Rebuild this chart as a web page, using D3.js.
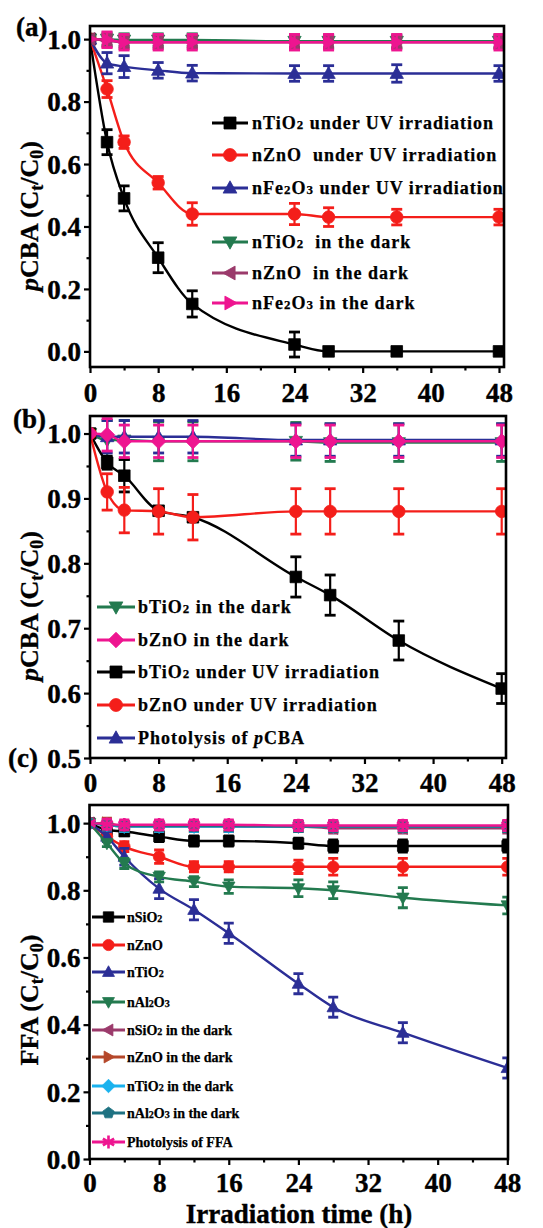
<!DOCTYPE html>
<html>
<head>
<meta charset="utf-8">
<script src="https://cdn.jsdelivr.net/npm/d3@7"></script>
<style>
  html, body { margin: 0; padding: 0; background: #fff; }
  svg { display: block; }
  text { font-family: "Liberation Serif", "Times New Roman", serif; font-weight: bold; white-space: pre; }
</style>
</head>
<body>
<svg id="chart" width="543" height="1228"></svg>
<script>
// ---------------- DATA ----------------
const xTicks = [0, 8, 16, 24, 32, 40, 48];
const xMinorTicks = [4, 12, 20, 28, 36, 44];

// Panel (a)
const timesA = [0, 2, 4, 8, 12, 24, 28, 36, 48];
const aNamesList = ["nTiO2 under UV irradiation", "nZnO  under UV irradiation", "nFe2O3 under UV irradiation",
                    "nTiO2  in the dark", "nZnO  in the dark", "nFe2O3 in the dark"];
const aTiO2UV     = [1.0, 0.67, 0.49, 0.30, 0.152, 0.022, 0.0, 0.0, 0.0];
const aTiO2UVErr  = [0, 0.04, 0.04, 0.048, 0.042, 0.04, 0.005, 0.005, 0.005];
const aZnOUV      = [1.0, 0.84, 0.67, 0.54, 0.44, 0.44, 0.43, 0.43, 0.43];
const aZnOUVErr   = [0, 0.027, 0.02, 0.02, 0.036, 0.034, 0.03, 0.025, 0.025];
const aFe2O3UV    = [1.0, 0.923, 0.912, 0.90, 0.891, 0.89, 0.89, 0.89, 0.89];
const aFe2O3UVErr = [0, 0.034, 0.035, 0.025, 0.025, 0.025, 0.025, 0.028, 0.025];
const aTiO2Dark   = [1.0, 1.0, 0.997, 0.997, 0.997, 0.993, 0.993, 0.993, 0.993];
const aTiO2DarkErr= [0, 0.02, 0.02, 0.02, 0.02, 0.02, 0.02, 0.02, 0.02];
const aZnODark    = [1.0, 0.995, 0.99, 0.99, 0.99, 0.99, 0.99, 0.99, 0.99];
const aZnODarkErr = [0, 0.02, 0.02, 0.02, 0.02, 0.02, 0.02, 0.02, 0.02];
const aFe2O3Dark  = [1.0, 0.998, 0.99, 0.99, 0.99, 0.99, 0.99, 0.99, 0.99];
const aFe2O3DarkErr=[0, 0.025, 0.025, 0.025, 0.025, 0.025, 0.025, 0.025, 0.025];
const aYTicks = [0.0, 0.2, 0.4, 0.6, 0.8, 1.0];
const aYMinor = [0.1, 0.3, 0.5, 0.7, 0.9];

// Panel (b)
const timesB = [0, 2, 4, 8, 12, 24, 28, 36, 48];
const bNamesList = ["bTiO2 in the dark", "bZnO in the dark", "bTiO2 under UV irradiation",
                    "bZnO under UV irradiation", "Photolysis of pCBA"];
const bTiO2Dark   = [1.0, 0.99, 0.99, 0.988, 0.988, 0.988, 0.986, 0.986, 0.986];
const bTiO2DarkErr= [0, 0.03, 0.03, 0.03, 0.03, 0.029, 0.029, 0.029, 0.029];
const bZnODark    = [1.0, 0.998, 0.988, 0.988, 0.988, 0.988, 0.988, 0.988, 0.988];
const bZnODarkErr = [0, 0.025, 0.025, 0.025, 0.025, 0.025, 0.025, 0.025, 0.025];
const bTiO2UV     = [1.0, 0.955, 0.935, 0.881, 0.871, 0.779, 0.751, 0.681, 0.607];
const bTiO2UVErr  = [0, 0.01, 0.025, 0.006, 0.006, 0.031, 0.031, 0.03, 0.023];
const bZnOUV      = [1.0, 0.91, 0.882, 0.88, 0.871, 0.88, 0.88, 0.88, 0.88];
const bZnOUVErr   = [0, 0.028, 0.035, 0.035, 0.035, 0.035, 0.035, 0.035, 0.035];
const bPhotolysis = [1.0, 0.995, 0.995, 0.995, 0.995, 0.99, 0.99, 0.99, 0.99];
const bPhotolysisErr = [0, 0.025, 0.025, 0.025, 0.025, 0.025, 0.025, 0.025, 0.025];
const bYTicks = [0.5, 0.6, 0.7, 0.8, 0.9, 1.0];
const bYMinor = [0.55, 0.65, 0.75, 0.85, 0.95];

// Panel (c)
const timesC = [0, 2, 4, 8, 12, 16, 24, 28, 36, 48];
const cNamesList = ["nSiO2", "nZnO", "nTiO2", "nAl2O3", "nSiO2 in the dark", "nZnO in the dark",
                    "nTiO2 in the dark", "nAl2O3 in the dark", "Photolysis of FFA"];
const cSiO2       = [1.0, 0.98, 0.975, 0.96, 0.947, 0.947, 0.94, 0.932, 0.932, 0.932];
const cSiO2Err    = [0, 0.012, 0.012, 0.015, 0.015, 0.015, 0.015, 0.018, 0.018, 0.018];
const cZnO        = [1.0, 0.96, 0.93, 0.90, 0.87, 0.87, 0.87, 0.87, 0.87, 0.87];
const cZnOErr     = [0, 0.01, 0.015, 0.02, 0.015, 0.015, 0.02, 0.025, 0.025, 0.025];
const cTiO2       = [1.0, 0.96, 0.90, 0.805, 0.742, 0.672, 0.522, 0.452, 0.376, 0.271];
const cTiO2Err    = [0, 0.015, 0.025, 0.03, 0.03, 0.03, 0.03, 0.03, 0.03, 0.03];
const cAl2O3      = [1.0, 0.94, 0.88, 0.84, 0.826, 0.811, 0.806, 0.80, 0.778, 0.755];
const cAl2O3Err   = [0, 0.01, 0.015, 0.015, 0.015, 0.02, 0.025, 0.025, 0.03, 0.025];
const cSiO2Dark   = [1.0, 0.995, 0.99, 0.99, 0.99, 0.99, 0.99, 0.985, 0.985, 0.985];
const cZnODark    = [1.0, 1.0, 0.99, 0.99, 0.99, 0.99, 0.99, 0.99, 0.99, 0.99];
const cTiO2Dark   = [1.0, 0.995, 0.99, 0.99, 0.99, 0.99, 0.99, 0.99, 0.99, 0.99];
const cAl2O3Dark  = [1.0, 0.995, 0.992, 0.992, 0.992, 0.992, 0.99, 0.99, 0.99, 0.99];
const cPhotolysis = [1.0, 0.997, 0.995, 0.995, 0.995, 0.995, 0.993, 0.993, 0.993, 0.993];
const cDarkErr    = [0, 0.015, 0.015, 0.015, 0.015, 0.015, 0.015, 0.015, 0.015, 0.015];
const cYTicks = [0.0, 0.2, 0.4, 0.6, 0.8, 1.0];
const cYMinor = [0.1, 0.3, 0.5, 0.7, 0.9];

// ---------------- STYLE ----------------
const C = {
  black: "#000000", red: "#f41e1a", blue: "#2b2e96", green: "#237a4f",
  purple: "#9b3a6b", magenta: "#ee1590", brown: "#b5472a", cyan: "#1ab2ee", teal: "#1e7282"
};

const svg = d3.select("#chart");

function markerPath(shape, r) {
  const p = d3.path();
  const poly = pts => { pts.forEach((q, i) => i ? p.lineTo(q[0], q[1]) : p.moveTo(q[0], q[1])); p.closePath(); };
  const h = r;
  switch (shape) {
    case "square": poly([[-r, -r], [r, -r], [r, r], [-r, r]]); break;
    case "circle": p.arc(0, 0, r * 1.08, 0, 2 * Math.PI); break;
    case "up": poly([[0, -h * 1.2], [h * 1.15, h * 0.85], [-h * 1.15, h * 0.85]]); break;
    case "down": poly([[0, h * 1.2], [h * 1.15, -h * 0.85], [-h * 1.15, -h * 0.85]]); break;
    case "left": poly([[-h * 1.2, 0], [h * 0.85, -h * 1.15], [h * 0.85, h * 1.15]]); break;
    case "right": poly([[h * 1.2, 0], [-h * 0.85, -h * 1.15], [-h * 0.85, h * 1.15]]); break;
    case "diamond": poly([[0, -r * 1.3], [r * 1.3, 0], [0, r * 1.3], [-r * 1.3, 0]]); break;
    case "pentagon": {
      const pts = d3.range(5).map(i => { const a = -Math.PI / 2 + i * 2 * Math.PI / 5; return [Math.cos(a) * r * 1.15, Math.sin(a) * r * 1.15]; });
      poly(pts); break;
    }
    case "asterisk": {
      for (let i = 0; i < 3; i++) {
        const a = Math.PI / 2 + i * Math.PI / 3;
        p.moveTo(Math.cos(a) * r * 1.25, Math.sin(a) * r * 1.25);
        p.lineTo(-Math.cos(a) * r * 1.25, -Math.sin(a) * r * 1.25);
      }
      break;
    }
  }
  return p.toString();
}

function drawMarker(g, shape, color, cx, cy, r) {
  const el = g.append("path").attr("d", markerPath(shape, r))
    .attr("transform", `translate(${cx},${cy})`);
  if (shape === "asterisk") el.attr("fill", "none").attr("stroke", color).attr("stroke-width", 2.6);
  else el.attr("fill", color).attr("stroke", color).attr("stroke-width", 0.8);
}

function labelTspans(textSel, label, fs) {
  let buf = "";
  const flush = () => { if (buf) { textSel.append("tspan").text(buf); buf = ""; } };
  for (let i = 0; i < label.length; i++) {
    const ch = label[i];
    if (/\d/.test(ch) && i > 0 && /[A-Za-z]/.test(label[i - 1])) {
      flush();
      textSel.append("tspan").attr("font-size", fs * 0.72).text(ch);
    } else if (label.substr(i, 4) === "pCBA") {
      flush();
      textSel.append("tspan").attr("font-style", "italic").text("p");
    } else buf += ch;
  }
  flush();
}

function drawPanel(cfg) {
  const g = svg.append("g");
  const x = d3.scaleLinear().domain([0, 48]).range([cfg.left, cfg.x48]);
  const y = d3.scaleLinear().domain(cfg.yDomain).range([cfg.bottom, cfg.top]);
  const clipId = "clip" + cfg.id;
  svg.append("clipPath").attr("id", clipId).append("rect")
    .attr("x", cfg.left).attr("y", cfg.top).attr("width", cfg.right - cfg.left).attr("height", cfg.bottom - cfg.top);
  const plot = g.append("g").attr("clip-path", `url(#${clipId})`);

  const line = d3.line().x(d => x(d.t)).y(d => y(d.v)).curve(d3.curveMonotoneX);

  cfg.series.forEach(s => {
    const pts = cfg.times.map((t, i) => ({ t, v: s.values[i], e: s.err[i] }));
    const sg = plot.append("g");
    sg.append("path").datum(pts).attr("d", line).attr("fill", "none")
      .attr("stroke", s.color).attr("stroke-width", 2.4);
    pts.forEach(d => {
      if (d.e > 0) {
        const y1 = y(d.v - d.e), y2 = y(d.v + d.e), cx = x(d.t), cw = cfg.cap;
        sg.append("line").attr("x1", cx).attr("x2", cx).attr("y1", y1).attr("y2", y2).attr("stroke", s.color).attr("stroke-width", 2.2);
        sg.append("line").attr("x1", cx - cw).attr("x2", cx + cw).attr("y1", y1).attr("y2", y1).attr("stroke", s.color).attr("stroke-width", 2.8);
        sg.append("line").attr("x1", cx - cw).attr("x2", cx + cw).attr("y1", y2).attr("y2", y2).attr("stroke", s.color).attr("stroke-width", 2.8);
      }
      drawMarker(sg, s.shape, s.color, x(d.t), y(d.v), cfg.mr);
    });
  });

  g.append("rect").attr("x", cfg.left).attr("y", cfg.top)
    .attr("width", cfg.right - cfg.left).attr("height", cfg.bottom - cfg.top)
    .attr("fill", "none").attr("stroke", "#000").attr("stroke-width", 2.6);

  const xa = g.append("g").attr("transform", `translate(0,${cfg.bottom})`)
    .call(d3.axisBottom(x).tickValues(xTicks).tickSize(6).tickPadding(8).tickFormat(d3.format("d")));
  const xm = g.append("g").attr("transform", `translate(0,${cfg.bottom})`)
    .call(d3.axisBottom(x).tickValues(xMinorTicks).tickSize(3.5).tickFormat(""));
  const ya = g.append("g").attr("transform", `translate(${cfg.left},0)`)
    .call(d3.axisLeft(y).tickValues(cfg.yTicks).tickSize(6).tickPadding(3).tickFormat(d3.format(".1f")));
  const ym = g.append("g").attr("transform", `translate(${cfg.left},0)`)
    .call(d3.axisLeft(y).tickValues(cfg.yMinor).tickSize(3.5).tickFormat(""));
  [xa, xm, ya, ym].forEach(a => {
    a.select(".domain").remove();
    a.selectAll("line").attr("stroke", "#000").attr("stroke-width", 2.2);
    a.selectAll("text").attr("font-size", 27).attr("fill", "#000")
      .attr("stroke", "#000").attr("stroke-width", 0.4)
      .style("font-family", '"Liberation Serif", "Times New Roman", serif').style("font-weight", "bold");
  });
  xa.selectAll("text").attr("dy", null).attr("y", cfg.xLabelDy);
  ya.selectAll("text").attr("dy", "0.34em");

  g.append("text").attr("x", cfg.labelX).attr("y", cfg.labelY).attr("font-size", 27)
    .attr("stroke", "#000").attr("stroke-width", 0.4).text(cfg.label);

  const yt = g.append("text").attr("text-anchor", "middle").attr("font-size", 26)
    .attr("stroke", "#000").attr("stroke-width", 0.3)
    .attr("transform", `translate(${cfg.yTitleX},${cfg.yTitleY}) rotate(-90)`);
  if (cfg.yTitle === "pCBA") {
    yt.append("tspan").attr("font-style", "italic").text("p");
    yt.append("tspan").text("CBA (C");
  } else {
    yt.append("tspan").text(cfg.yTitle + " (C");
  }
  yt.append("tspan").attr("font-size", 18).attr("dy", 5).text("t");
  yt.append("tspan").attr("dy", -5).text("/C");
  yt.append("tspan").attr("font-size", 18).attr("dy", 5).text("0");
  yt.append("tspan").attr("dy", -5).text(")");

  const L = cfg.legend;
  cfg.series.slice().sort((a, b) => a.legendIndex - b.legendIndex).forEach((s, i) => {
    const cy = L.rows[i];
    const lg = g.append("g");
    lg.append("line").attr("x1", L.x1).attr("x2", L.x2).attr("y1", cy).attr("y2", cy)
      .attr("stroke", s.color).attr("stroke-width", 3);
    drawMarker(lg, s.shape, s.color, (L.x1 + L.x2) / 2, cy, L.mr);
    const t = lg.append("text").attr("x", L.tx).attr("y", cy + L.fs * 0.34)
      .attr("font-size", L.fs).attr("letter-spacing", L.ls).attr("fill", "#000")
      .attr("stroke", "#000").attr("stroke-width", 0.25);
    labelTspans(t, s.name, L.fs);
  });
}

// ---------------- PANELS ----------------
drawPanel({
  id: "a", label: "(a)", labelX: 16, labelY: 36,
  left: 90, right: 504, x48: 499, top: 26, bottom: 367, yDomain: [-0.05, 1.042],
  yTicks: aYTicks, yMinor: aYMinor, xLabelDy: 35, cap: 5.5, mr: 5.8,
  yTitle: "pCBA", yTitleX: 38, yTitleY: 216,
  times: timesA,
  series: [
    { name: aNamesList[0], values: aTiO2UV, err: aTiO2UVErr, color: C.black, shape: "square", legendIndex: 0 },
    { name: aNamesList[1], values: aZnOUV, err: aZnOUVErr, color: C.red, shape: "circle", legendIndex: 1 },
    { name: aNamesList[2], values: aFe2O3UV, err: aFe2O3UVErr, color: C.blue, shape: "up", legendIndex: 2 },
    { name: aNamesList[3], values: aTiO2Dark, err: aTiO2DarkErr, color: C.green, shape: "down", legendIndex: 3 },
    { name: aNamesList[4], values: aZnODark, err: aZnODarkErr, color: C.purple, shape: "left", legendIndex: 4 },
    { name: aNamesList[5], values: aFe2O3Dark, err: aFe2O3DarkErr, color: C.magenta, shape: "right", legendIndex: 5 }
  ],
  legend: { x1: 212, x2: 248, tx: 252, fs: 18, ls: 1, mr: 6, rows: [123, 155, 188, 242, 273, 303] }
});

drawPanel({
  id: "b", label: "(b)", labelX: 13, labelY: 428,
  left: 90, right: 506, x48: 501.7, top: 416, bottom: 758, yDomain: [0.5, 1.027],
  yTicks: bYTicks, yMinor: bYMinor, xLabelDy: 34, cap: 5.5, mr: 5.8,
  yTitle: "pCBA", yTitleX: 38, yTitleY: 606,
  times: timesB,
  series: [
    { name: bNamesList[0], values: bTiO2Dark, err: bTiO2DarkErr, color: C.green, shape: "down", legendIndex: 0 },
    { name: bNamesList[4], values: bPhotolysis, err: bPhotolysisErr, color: C.blue, shape: "up", legendIndex: 4 },
    { name: bNamesList[2], values: bTiO2UV, err: bTiO2UVErr, color: C.black, shape: "square", legendIndex: 2 },
    { name: bNamesList[3], values: bZnOUV, err: bZnOUVErr, color: C.red, shape: "circle", legendIndex: 3 },
    { name: bNamesList[1], values: bZnODark, err: bZnODarkErr, color: C.magenta, shape: "diamond", legendIndex: 1 }
  ],
  legend: { x1: 97, x2: 135, tx: 138, fs: 18, ls: 1, mr: 6, rows: [607, 640, 672, 705, 738] }
});

drawPanel({
  id: "c", label: "(c)", labelX: 8, labelY: 767,
  left: 89.5, right: 508, x48: 507.3, top: 805, bottom: 1159, yDomain: [0, 1.054],
  yTicks: cYTicks, yMinor: cYMinor, xLabelDy: 33, cap: 5, mr: 5.4,
  yTitle: "FFA", yTitleX: 38, yTitleY: 1000,
  times: timesC,
  series: [
    { name: cNamesList[0], values: cSiO2, err: cSiO2Err, color: C.black, shape: "square", legendIndex: 0 },
    { name: cNamesList[1], values: cZnO, err: cZnOErr, color: C.red, shape: "circle", legendIndex: 1 },
    { name: cNamesList[2], values: cTiO2, err: cTiO2Err, color: C.blue, shape: "up", legendIndex: 2 },
    { name: cNamesList[3], values: cAl2O3, err: cAl2O3Err, color: C.green, shape: "down", legendIndex: 3 },
    { name: cNamesList[4], values: cSiO2Dark, err: cDarkErr, color: C.purple, shape: "left", legendIndex: 4 },
    { name: cNamesList[5], values: cZnODark, err: cDarkErr, color: C.brown, shape: "right", legendIndex: 5 },
    { name: cNamesList[6], values: cTiO2Dark, err: cDarkErr, color: C.cyan, shape: "diamond", legendIndex: 6 },
    { name: cNamesList[7], values: cAl2O3Dark, err: cDarkErr, color: C.teal, shape: "pentagon", legendIndex: 7 },
    { name: cNamesList[8], values: cPhotolysis, err: cDarkErr, color: C.magenta, shape: "asterisk", legendIndex: 8 }
  ],
  legend: { x1: 92, x2: 125, tx: 127, fs: 14, ls: 0, mr: 5.2, rows: [917, 945, 972, 1002, 1030, 1057, 1086, 1113, 1142] }
});

svg.append("text").attr("x", 299).attr("y", 1223).attr("text-anchor", "middle")
  .attr("font-size", 27).attr("stroke", "#000").attr("stroke-width", 0.4).text("Irradiation time (h)");
</script>
</body>
</html>
